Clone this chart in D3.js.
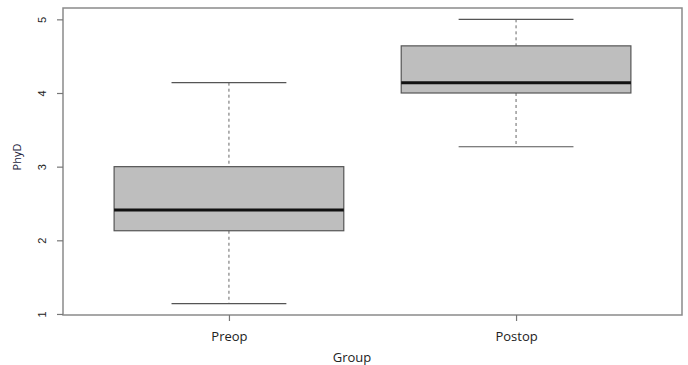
<!DOCTYPE html>
<html>
<head>
<meta charset="utf-8">
<script src="https://cdn.jsdelivr.net/npm/d3@7"></script>
<style>
  html, body { margin: 0; padding: 0; background: #fff; }
  svg { display: block; }
</style>
</head>
<body>
<svg id="chart" width="688" height="365"></svg>
<script>
// Box summaries per group
const groups = ["Preop", "Postop"];
const whiskerLow = [1.14, 3.27];
const q1 = [2.13, 4.0];
const median = [2.41, 4.14];
const q3 = [3.0, 4.64];
const whiskerHigh = [4.14, 5.0];
const yTicks = [1, 2, 3, 4, 5];

const svg = d3.select("#chart");
const frame = { left: 63, right: 682, top: 8, bottom: 315 };

const x = d3.scalePoint()
  .domain(groups)
  .range([frame.left, frame.right])
  .padding(0.578);

const y = d3.scaleLinear()
  .domain([0.986, 5.154])
  .range([frame.bottom, frame.top]);

const step = x.step();
const boxW = step * 0.8;
const capW = step * 0.4;

const rows = groups.map((g, i) => ({
  g, lo: whiskerLow[i], q1: q1[i], med: median[i], q3: q3[i], hi: whiskerHigh[i]
}));

const box = svg.append("g").selectAll("g").data(rows).join("g");

// whiskers (dashed)
box.append("line")
  .attr("x1", d => x(d.g)).attr("x2", d => x(d.g))
  .attr("y1", d => y(d.hi)).attr("y2", d => y(d.q3))
  .attr("stroke", "#666").attr("stroke-width", 1).attr("stroke-dasharray", "3,3");
box.append("line")
  .attr("x1", d => x(d.g)).attr("x2", d => x(d.g))
  .attr("y1", d => y(d.q1)).attr("y2", d => y(d.lo))
  .attr("stroke", "#666").attr("stroke-width", 1).attr("stroke-dasharray", "3,3");

// caps
box.append("line")
  .attr("x1", d => x(d.g) - capW / 2).attr("x2", d => x(d.g) + capW / 2)
  .attr("y1", d => y(d.hi)).attr("y2", d => y(d.hi))
  .attr("stroke", "#555").attr("stroke-width", 1.2);
box.append("line")
  .attr("x1", d => x(d.g) - capW / 2).attr("x2", d => x(d.g) + capW / 2)
  .attr("y1", d => y(d.lo)).attr("y2", d => y(d.lo))
  .attr("stroke", "#555").attr("stroke-width", 1.2);

// boxes
box.append("rect")
  .attr("x", d => x(d.g) - boxW / 2)
  .attr("width", boxW)
  .attr("y", d => y(d.q3))
  .attr("height", d => y(d.q1) - y(d.q3))
  .attr("fill", "#bebebe")
  .attr("stroke", "#555").attr("stroke-width", 1.2);

// medians
box.append("line")
  .attr("x1", d => x(d.g) - boxW / 2).attr("x2", d => x(d.g) + boxW / 2)
  .attr("y1", d => y(d.med)).attr("y2", d => y(d.med))
  .attr("stroke", "#111").attr("stroke-width", 3);

// plot frame
svg.append("rect")
  .attr("x", frame.left).attr("y", frame.top)
  .attr("width", frame.right - frame.left)
  .attr("height", frame.bottom - frame.top)
  .attr("fill", "none").attr("stroke", "#8a8a8a").attr("stroke-width", 1.5);

// y axis
const yAxis = svg.append("g")
  .attr("transform", `translate(${frame.left},0)`)
  .call(d3.axisLeft(y).tickValues(yTicks).tickFormat(d3.format("d")).tickSize(6).tickPadding(0));
yAxis.select(".domain").remove();
yAxis.selectAll(".tick line").attr("stroke", "#777").attr("stroke-width", 1.2);
yAxis.selectAll(".tick text")
  .attr("transform", "rotate(-90)")
  .attr("x", 0).attr("y", -21)
  .attr("dy", "0.35em")
  .attr("text-anchor", "middle")
  .attr("fill", "#222")
  .style("font-family", "'Liberation Sans', Arial, sans-serif")
  .style("font-size", "11px");

// x axis
const xAxis = svg.append("g")
  .attr("transform", `translate(0,${frame.bottom})`)
  .call(d3.axisBottom(x).tickSize(6).tickPadding(0));
xAxis.select(".domain").remove();
xAxis.selectAll(".tick line").attr("stroke", "#777").attr("stroke-width", 1.2);
xAxis.selectAll(".tick text")
  .attr("y", 21)
  .attr("dy", "0.35em")
  .attr("fill", "#222")
  .style("font-family", "'Open Sans', sans-serif")
  .style("font-size", "13px");

// axis titles
svg.append("text")
  .attr("x", 352).attr("y", 357)
  .attr("dy", "0.35em")
  .attr("text-anchor", "middle")
  .attr("fill", "#222")
  .style("font-family", "'Open Sans', sans-serif")
  .style("font-size", "13px")
  .text("Group");

svg.append("text")
  .attr("transform", `translate(17,157) rotate(-90)`)
  .attr("dy", "0.35em")
  .attr("text-anchor", "middle")
  .attr("fill", "#22223a")
  .style("font-family", "'Open Sans', sans-serif")
  .style("font-size", "11px")
  .text("PhyD");
</script>
</body>
</html>
